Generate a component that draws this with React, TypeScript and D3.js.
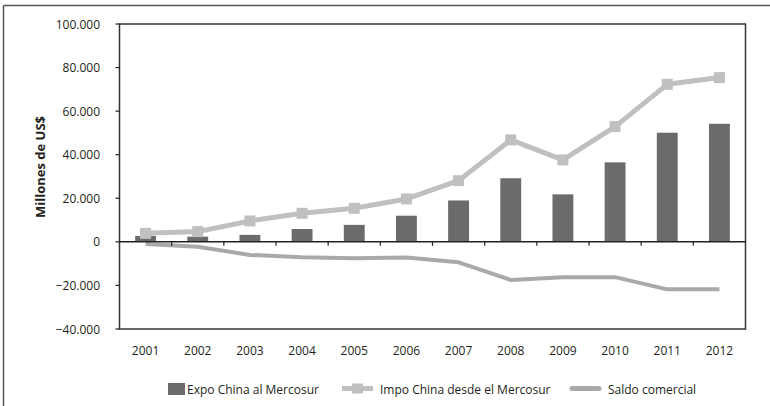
import React from "react";
import * as d3 from "d3";

const years = ["2001","2002","2003","2004","2005","2006","2007","2008","2009","2010","2011","2012"];
const expo = [2700, 2400, 3200, 5900, 7800, 12000, 19000, 29200, 21800, 36500, 50100, 54200];
const impo = [3900, 4700, 9600, 13100, 15400, 19700, 28100, 46800, 37600, 52900, 72300, 75400];
const saldo = [-1000, -2200, -6000, -7100, -7500, -7200, -9400, -17500, -16200, -16200, -21800, -21800];
const yTicks = [-40000, -20000, 0, 20000, 40000, 60000, 80000, 100000];
const legendLabels = ["Expo China al Mercosur", "Impo China desde el Mercosur", "Saldo comercial"];

const W = 770, H = 406;
const L = 119.5, R = 745.5, T = 24, B = 329;
const FONT = "'Open Sans', sans-serif";
const TXT = "#231f20";

export default function App() {
  const x = d3.scaleBand().domain(years).range([L, R]).paddingInner(0).paddingOuter(0);
  const y = d3.scaleLinear().domain([-40000, 100000]).range([B, T]);
  const bw = x.bandwidth() * 0.4;
  const cx = (d: string) => (x(d) as number) + x.bandwidth() / 2;
  const fmt = (v: number) => (v === 0 ? "0" : d3.format(",")(v).replace(/,/g, "."));
  const lineImpo = d3.line<number>().x((_, i) => cx(years[i])).y((v) => y(v));
  const lineSaldo = d3.line<number>().x((_, i) => cx(years[i])).y((v) => y(v));
  const y0 = y(0);

  return (
    <svg width={W} height={H} style={{ position: "absolute", left: 0, top: 0, fontFamily: FONT }}>
      <rect x={0} y={0} width={W} height={H} fill="#fff" />
      {/* outer frame */}
      <line x1={3.5} y1={5.5} x2={W} y2={5.5} stroke="#555" strokeWidth={1.5} />
      <line x1={3.5} y1={5.5} x2={3.5} y2={H} stroke="#555" strokeWidth={1.5} />

      {/* bars */}
      {years.map((yr, i) => (
        <rect key={yr} x={cx(yr) - bw / 2} y={y(expo[i])} width={bw} height={y0 - y(expo[i])} fill="#6b6b6e" />
      ))}

      {/* saldo */}
      <path d={lineSaldo(saldo) || ""} fill="none" stroke="#a9a9ab" strokeWidth={4} strokeLinejoin="round" />

      {/* zero axis */}
      <line x1={L} y1={y0} x2={R} y2={y0} stroke="#222" strokeWidth={1.5} />
      {years.slice(1).map((yr) => (
        <line key={yr} x1={x(yr)} y1={y0} x2={x(yr)} y2={y0 + 4} stroke="#222" strokeWidth={1.2} />
      ))}

      {/* impo */}
      <path d={lineImpo(impo) || ""} fill="none" stroke="#c0c0c2" strokeWidth={5} strokeLinejoin="round" />
      {impo.map((v, i) => (
        <rect key={i} x={cx(years[i]) - 5.5} y={y(v) - 5.5} width={11} height={11} fill="#c0c0c2" />
      ))}

      {/* plot frame */}
      <rect x={L} y={T} width={R - L} height={B - T} fill="none" stroke="#333" strokeWidth={1.5} />

      {/* y ticks */}
      {yTicks.map((t) => (
        <g key={t}>
          <line x1={L - 4} y1={y(t)} x2={L} y2={y(t)} stroke="#222" strokeWidth={1.2} />
          <text x={100} y={y(t) + 4.5} textAnchor="end" fontSize={12} fill={TXT}>{fmt(t)}</text>
        </g>
      ))}

      {/* x labels */}
      {years.map((yr) => (
        <text key={yr} x={cx(yr)} y={355} textAnchor="middle" fontSize={12} fill={TXT}>{yr}</text>
      ))}

      {/* y title */}
      <text transform={`translate(45,167) rotate(-90)`} textAnchor="middle" fontSize={13} fontWeight="bold" fill={TXT}>Millones de US$</text>

      {/* legend */}
      <rect x={168} y={383} width={17} height={12} fill="#6b6b6e" />
      <text x={187} y={393.5} fontSize={12} fill={TXT}>{legendLabels[0]}</text>
      <line x1={342} y1={388.5} x2={373} y2={388.5} stroke="#c0c0c2" strokeWidth={5} />
      <rect x={352} y={383.5} width={11} height={10} fill="#c0c0c2" />
      <text x={380} y={393.5} fontSize={12} fill={TXT}>{legendLabels[1]}</text>
      <line x1={572} y1={388.5} x2={599} y2={388.5} stroke="#a9a9ab" strokeWidth={5} strokeLinecap="round" />
      <text x={608} y={393.5} fontSize={12} fill={TXT}>{legendLabels[2]}</text>
    </svg>
  );
}
